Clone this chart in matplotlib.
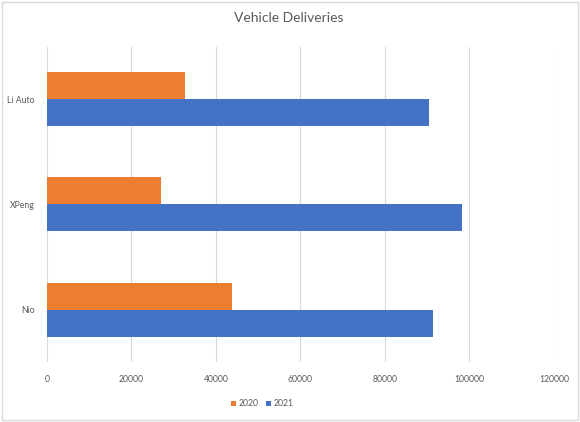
import numpy as np
import matplotlib.pyplot as plt
from matplotlib.patches import Rectangle

plt.rcParams['font.family'] = ['Lato', 'DejaVu Sans']

companies = ['Nio', 'XPeng', 'Li Auto']
deliveries_2020 = [43728, 27041, 32624]
deliveries_2021 = [91429, 98155, 90491]
xticks = [0, 20000, 40000, 60000, 80000, 100000, 120000]

orange = '#ED7D31'
blue = '#4472C4'
grey = '#595959'

fig = plt.figure(figsize=(5.8, 4.22), dpi=100)
ax = fig.add_axes([0.081, 0.142, 0.874, 0.747])

y = np.arange(len(companies))
h = 0.257
ax.barh(y + h / 2, deliveries_2020, height=h, color=orange, label='2020', zorder=3)
ax.barh(y - h / 2, deliveries_2021, height=h, color=blue, label='2021', zorder=3)

ax.set_xlim(0, 120000)
ax.set_ylim(-0.5, 2.5)
ax.set_xticks(xticks)
ax.set_xticklabels([str(v) for v in xticks])
ax.set_yticks(y)
ax.set_yticklabels(companies)
ax.tick_params(axis='both', length=0, labelsize=6.2, colors=grey)
ax.tick_params(axis='x', pad=9)
ax.tick_params(axis='y', pad=9)
ax.grid(axis='x', color='#D9D9D9', lw=0.8, zorder=0)
for s in ax.spines.values():
    s.set_visible(False)

fig.text(0.498, 0.957, 'Vehicle Deliveries', ha='center', va='center', fontsize=10, color='#595959')
fig.legend(loc='center', bbox_to_anchor=(0.452, 0.043), ncol=2, frameon=False, fontsize=6.2,
           labelcolor=grey, handlelength=0.6, handleheight=0.6, handletextpad=0.3, columnspacing=0.8)

fig.patches.append(Rectangle((0.003, 0.004), 0.994, 0.992, transform=fig.transFigure,
                             fill=False, edgecolor='#D9D9D9', lw=1))

fig.savefig('out.png', dpi=100)
plt.close('all')
